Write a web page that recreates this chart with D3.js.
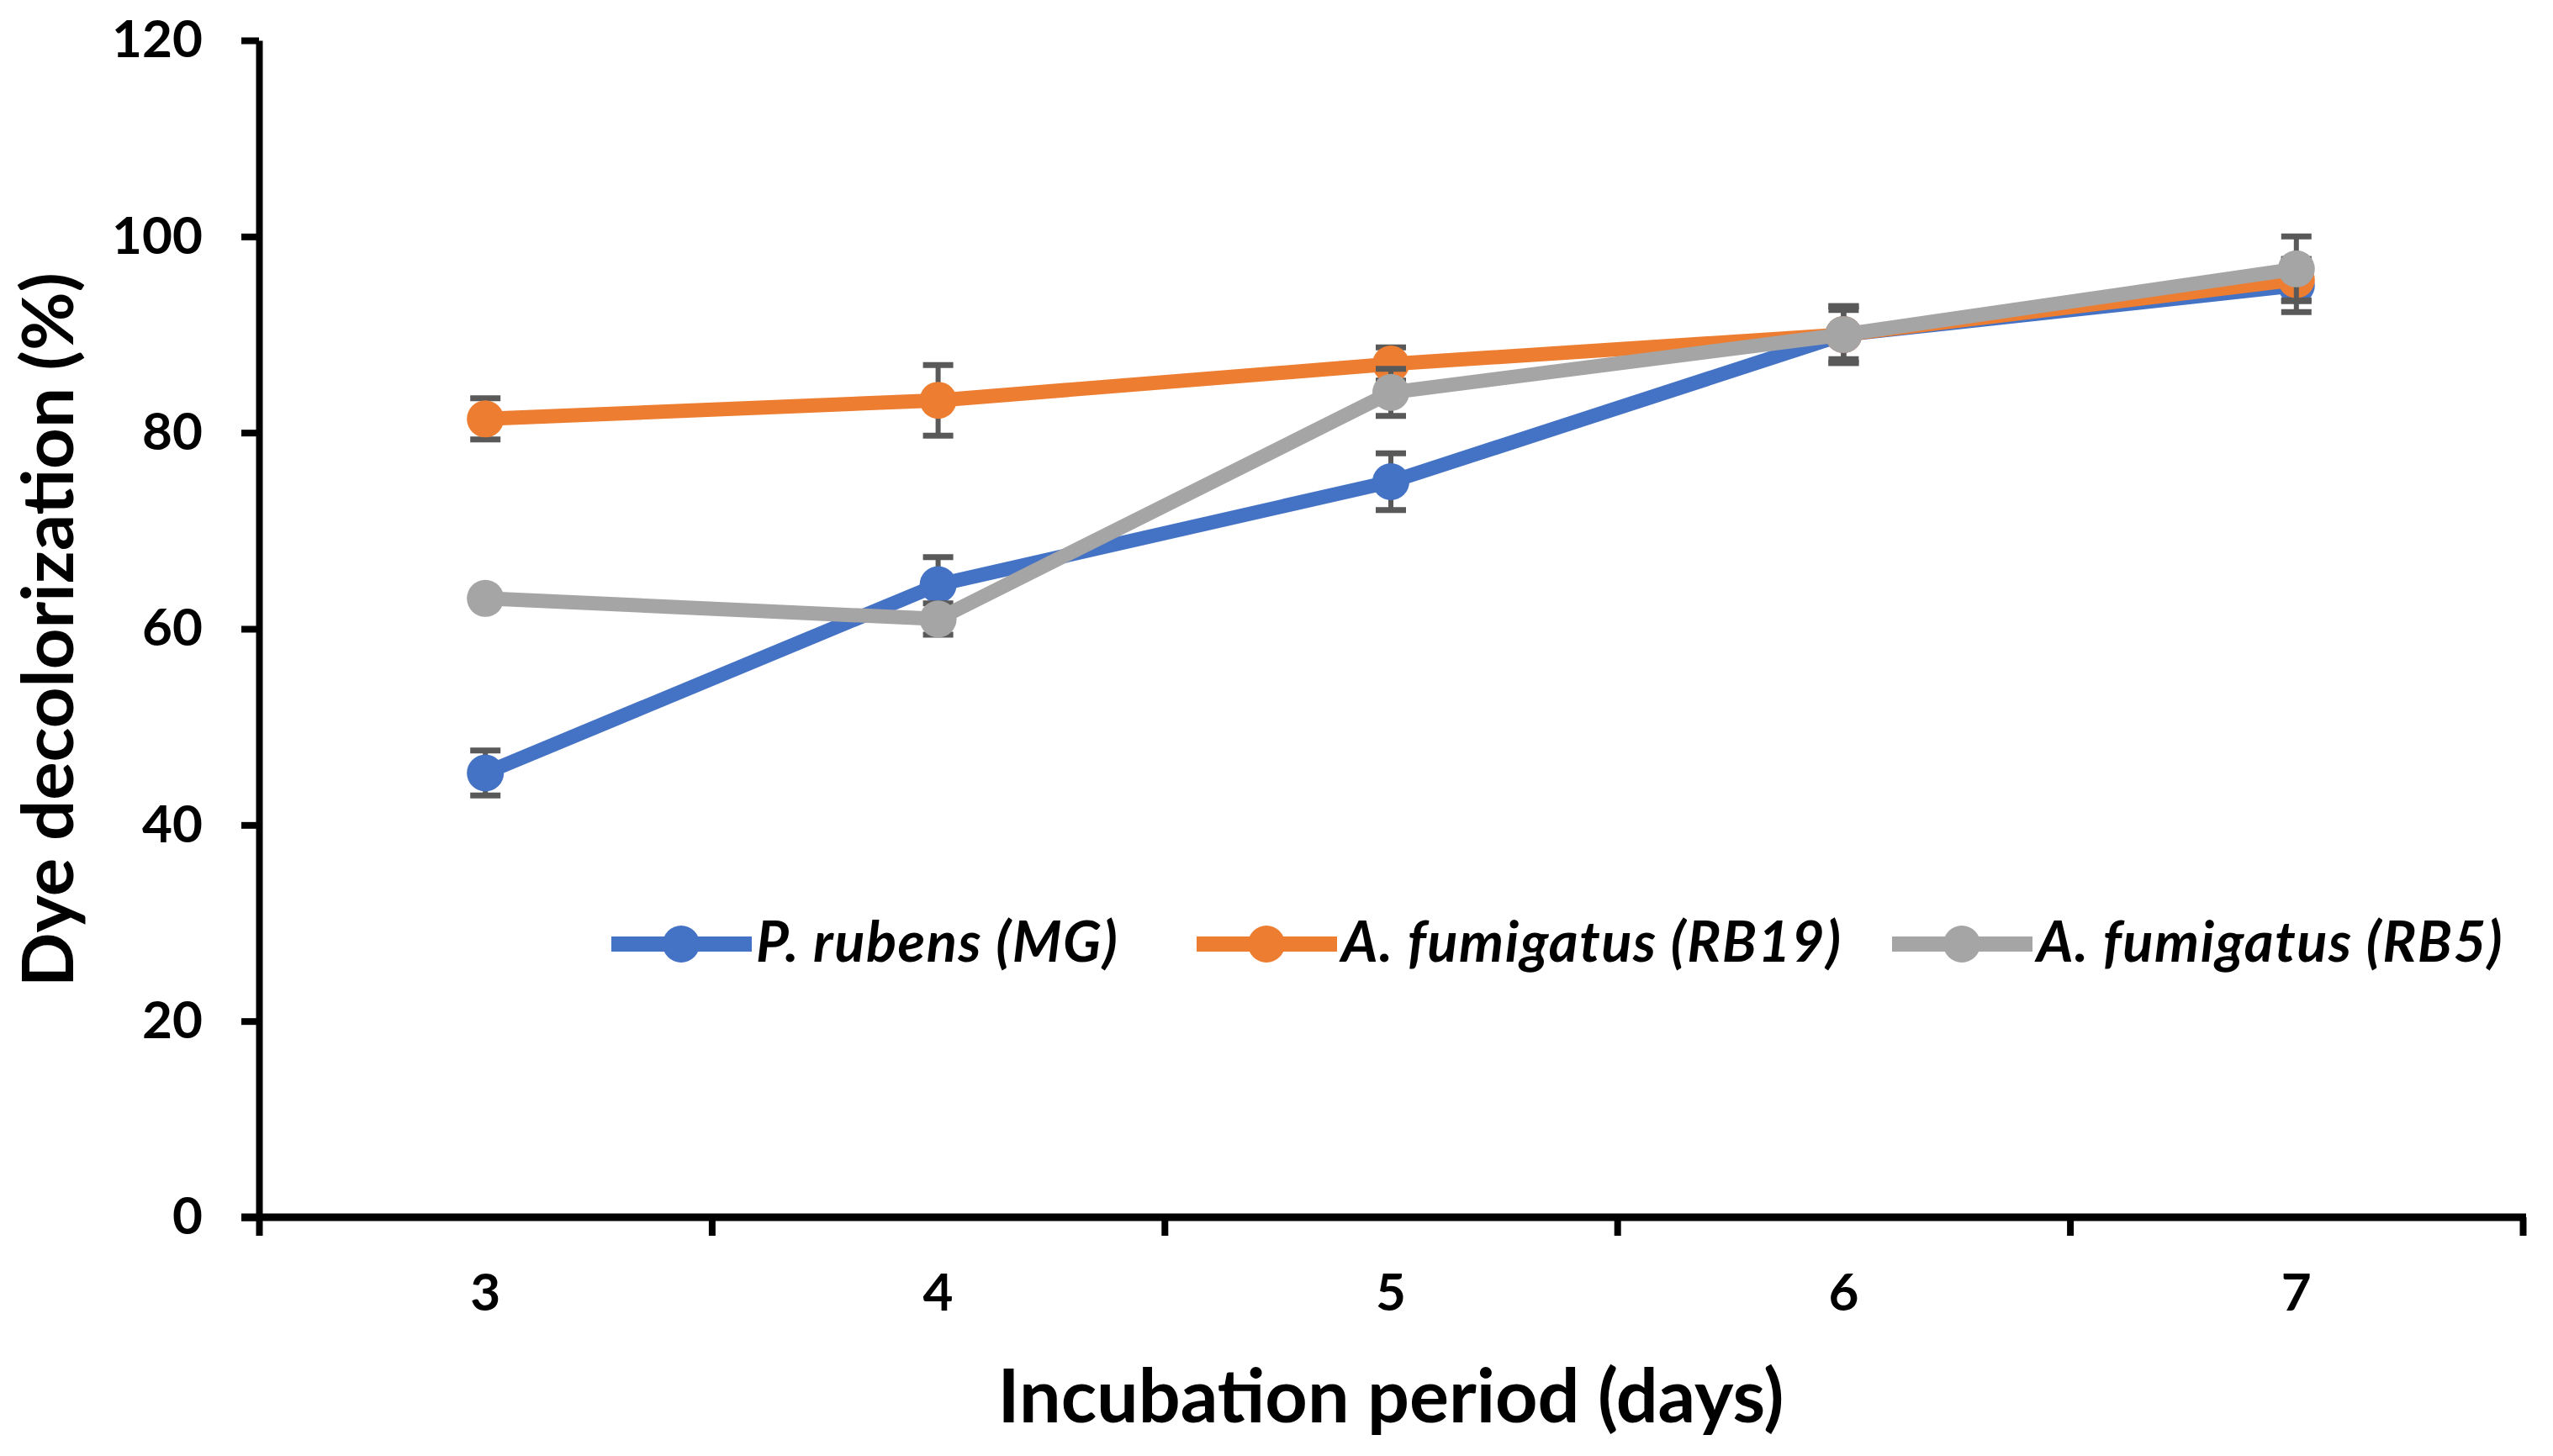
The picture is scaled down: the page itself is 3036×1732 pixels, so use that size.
<!DOCTYPE html>
<html>
<head>
<meta charset="utf-8">
<script src="https://cdn.jsdelivr.net/npm/d3@7"></script>
<style>
  body { margin: 0; background: #fff; }
  svg text { font-family: Lato, "Open Sans", sans-serif; font-weight: bold; fill: #000; }
</style>
</head>
<body>
<div id="chart"></div>
<script>
var days = ["3", "4", "5", "6", "7"];
var seriesNames = ["P. rubens (MG)", "A. fumigatus (RB19)", "A. fumigatus (RB5)"];
var rubensMG = [45.3, 64.5, 75.0, 90.0, 95.0];
var rubensMGErr = [2.3, 2.8, 2.9, 2.9, 2.7];
var fumigatusRB19 = [81.4, 83.3, 87.0, 90.0, 95.6];
var fumigatusRB19Err = [2.1, 3.6, 1.7, 2.5, 2.1];
var fumigatusRB5 = [63.1, 61.0, 84.1, 90.0, 96.7];
var fumigatusRB5Err = [0.5, 1.6, 2.4, 2.9, 3.3];
var yTicks = [0, 20, 40, 60, 80, 100, 120];

var colors = ["#4472C4", "#ED7D31", "#A5A5A5"];

var chart = {
	w: 3036,
	h: 1732,
	padding: {l: 308, r: 36, t: 48, b: 284},
	svg: null
};

chart.svg = d3.select('#chart').append('svg')
	.attr('width', chart.w)
	.attr('height', chart.h);

var series = [
	{name: seriesNames[0], values: rubensMG, err: rubensMGErr, color: colors[0]},
	{name: seriesNames[1], values: fumigatusRB19, err: fumigatusRB19Err, color: colors[1]},
	{name: seriesNames[2], values: fumigatusRB5, err: fumigatusRB5Err, color: colors[2]}
];

var x_scale = d3.scaleBand()
	.domain(days)
	.range([chart.padding.l, chart.w - chart.padding.r]);

var edge_scale = d3.scaleLinear()
	.domain([0, days.length])
	.range([chart.padding.l, chart.w - chart.padding.r]);

var y_scale = d3.scaleLinear()
	.domain([0, 120])
	.range([chart.h - chart.padding.b, chart.padding.t]);

var cx = d => x_scale(d) + x_scale.bandwidth() / 2;

// y axis
chart.svg.append('g')
	.attr('class', 'axis y')
	.attr('transform', 'translate(' + chart.padding.l + ',0)')
	.call(d3.axisLeft(y_scale).tickValues(yTicks).tickSize(21).tickPadding(46).tickSizeOuter(0))
	.call(g => g.selectAll('path, line').attr('stroke', '#000').attr('stroke-width', 8))
	.call(g => g.selectAll('text').style('font-size', '62px'));

// x axis: ticks at category edges, labels at centers
var xg = chart.h - chart.padding.b;
chart.svg.append('g')
	.attr('class', 'axis x-ticks')
	.attr('transform', 'translate(0,' + xg + ')')
	.call(d3.axisBottom(edge_scale).tickValues(d3.range(days.length + 1)).tickFormat('').tickSize(22).tickSizeOuter(0))
	.call(g => g.selectAll('line').attr('stroke', '#000').attr('stroke-width', 8))
	.call(g => g.select('.domain').remove());

chart.svg.append('g')
	.attr('class', 'axis x')
	.attr('transform', 'translate(0,' + xg + ')')
	.call(d3.axisBottom(x_scale).tickSize(0).tickPadding(67))
	.call(g => g.select('.domain').remove())
	.call(g => g.selectAll('text').style('font-size', '62px'));

// x axis line, drawn across past the y axis like the original
chart.svg.append('line')
	.attr('x1', chart.padding.l - 21)
	.attr('x2', chart.w - chart.padding.r + 4)
	.attr('y1', xg)
	.attr('y2', xg)
	.attr('stroke', '#000')
	.attr('stroke-width', 9);

// series: error bars, line, markers
var line = d3.line()
	.x((d, i) => cx(days[i]))
	.y(d => y_scale(d));

series.forEach(function(s) {
	var g = chart.svg.append('g').attr('class', 'series');

	var eb = g.selectAll('g.err')
		.data(s.values)
		.enter()
		.append('g')
			.attr('class', 'err')
			.attr('stroke', '#595959');
	eb.append('line')
		.attr('x1', (d, i) => cx(days[i]))
		.attr('x2', (d, i) => cx(days[i]))
		.attr('y1', (d, i) => y_scale(d + s.err[i]))
		.attr('y2', (d, i) => y_scale(d - s.err[i]))
		.attr('stroke-width', 6);
	eb.selectAll('line.cap')
		.data((d, i) => [[i, d + s.err[i]], [i, d - s.err[i]]])
		.enter()
		.append('line')
			.attr('class', 'cap')
			.attr('x1', d => cx(days[d[0]]) - 18)
			.attr('x2', d => cx(days[d[0]]) + 18)
			.attr('y1', d => y_scale(d[1]))
			.attr('y2', d => y_scale(d[1]))
			.attr('stroke-width', 7);

	g.append('path')
		.datum(s.values)
		.attr('d', line)
		.attr('fill', 'none')
		.attr('stroke', s.color)
		.attr('stroke-width', 17)
		.attr('stroke-linejoin', 'round');

	g.selectAll('circle')
		.data(s.values)
		.enter()
		.append('circle')
			.attr('cx', (d, i) => cx(days[i]))
			.attr('cy', d => y_scale(d))
			.attr('r', 22)
			.attr('fill', s.color);
});

// legend
var legendX = [727, 1423, 2250];
var legendY = 1123;
var legend = chart.svg.append('g').attr('class', 'legend')
	.selectAll('g')
	.data(series)
	.enter()
	.append('g')
		.attr('transform', (d, i) => 'translate(' + legendX[i] + ',' + legendY + ')');
legend.append('line')
	.attr('x1', 0).attr('x2', 167)
	.attr('stroke', d => d.color)
	.attr('stroke-width', 18);
legend.append('circle')
	.attr('cx', 83).attr('r', 22)
	.attr('fill', d => d.color);
legend.append('text')
	.attr('x', 172)
	.attr('y', 21)
	.style('font-size', '67px')
	.style('letter-spacing', '1.5px')
	.style('font-style', 'italic')
	.text(d => d.name);

// axis titles
chart.svg.append('text')
	.attr('class', 'axis-label')
	.attr('x', (chart.padding.l + chart.w - chart.padding.r) / 2)
	.attr('y', 1692)
	.attr('text-anchor', 'middle')
	.style('font-size', '88px')
	.text('Incubation period (days)');

chart.svg.append('text')
	.attr('class', 'axis-label')
	.attr('transform', 'translate(87,749) rotate(-90)')
	.attr('text-anchor', 'middle')
	.style('font-size', '85px')
	.text('Dye decolorization (%)');
</script>
</body>
</html>
